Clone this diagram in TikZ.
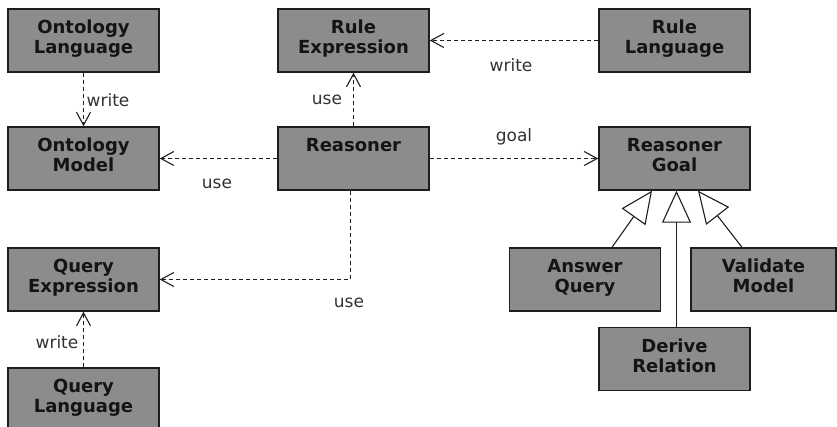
\documentclass[tikz,border=0pt]{standalone}
\usepackage{fontspec}
\setmainfont{DejaVu Sans}
\usetikzlibrary{arrows.meta}
\definecolor{boxgray}{RGB}{140,140,140}
\definecolor{edgec}{RGB}{30,30,30}
\definecolor{labelc}{RGB}{50,50,50}
\begin{document}
\begin{tikzpicture}[x=1pt,y=-1pt,
    cls/.style={draw=edgec, line width=1.4pt, fill=boxgray, text=black!92,
        minimum width=151pt, minimum height=63pt, inner sep=0pt,
        align=center, text depth=7pt,
        font=\fontsize{18pt}{20pt}\selectfont\bfseries},
    dep/.style={draw=edgec, line width=1.1pt, dash pattern=on 4pt off 3pt,
        -{Straight Barb[length=13pt,width=14pt,line width=1.1pt]}},
    isa/.style={draw=edgec, line width=1.1pt,
        -{Triangle[length=32pt,width=29pt,fill=white,line width=1.1pt]}},
    lbl/.style={text=labelc, inner sep=0pt, font=\fontsize{17pt}{19pt}\selectfont}]
    \useasboundingbox (0,0) rectangle (837,427);
%
    % boxes
    \node[cls] (ontlang) at (83.5,40.5) {Ontology\\Language};
    \node[cls] (ontmodel) at (83.5,158.5) {Ontology\\Model};
    \node[cls] (ruleexpr) at (353.5,40.5) {Rule\\Expression};
    \node[cls] (reasoner) at (353.5,158.5) {Reasoner\\\mbox{}};
    \node[cls] (rulelang) at (674.5,40.5) {Rule\\Language};
    \node[cls] (reasgoal) at (674.5,158.5) {Reasoner\\Goal};
    \node[cls] (queryexpr) at (83.5,279.5) {Query\\Expression};
    \node[cls] (querylang) at (83.5,399.5) {Query\\Language};
    \node[cls] (answer) at (585,279.5) {Answer\\Query};
    \node[cls, minimum width=145pt] (validate) at (763.5,279.5) {Validate\\Model};
    \node[cls] (derive) at (674.5,359) {Derive\\Relation};
%
    % dependencies
    \draw[dep] (ontlang) -- (ontmodel);
    \draw[dep] (reasoner) -- (ruleexpr);
    \draw[dep] (reasoner) -- (ontmodel);
    \draw[dep] (rulelang) -- (ruleexpr);
    \draw[dep] (reasoner) -- (reasgoal);
    \draw[dep] ([xshift=-3pt]reasoner.south) |- (queryexpr.east);
    \draw[dep] (querylang) -- (queryexpr);
%
    % generalisation
    \draw[isa] ([xshift=27pt]answer.north) -- ([xshift=-22.5pt]reasgoal.south);
    \draw[isa] ([xshift=2pt]derive.north) -- ([xshift=2pt]reasgoal.south);
    \draw[isa] ([xshift=-21.5pt]validate.north) -- ([xshift=23.5pt]reasgoal.south);
%
    % labels
    \node[lbl] (wontology) at (108,100) {write};
    \node[lbl] (urule) at (327,100) {use};
    \node[lbl] (umodel) at (217,184) {use};
    \node[lbl] (wrule) at (511,65) {write};
    \node[lbl] (lgoal) at (514,137) {goal};
    \node[lbl] (uquery) at (349,303) {use};
    \node[lbl] (wquery) at (57,342) {write};
\end{tikzpicture}
\end{document}
